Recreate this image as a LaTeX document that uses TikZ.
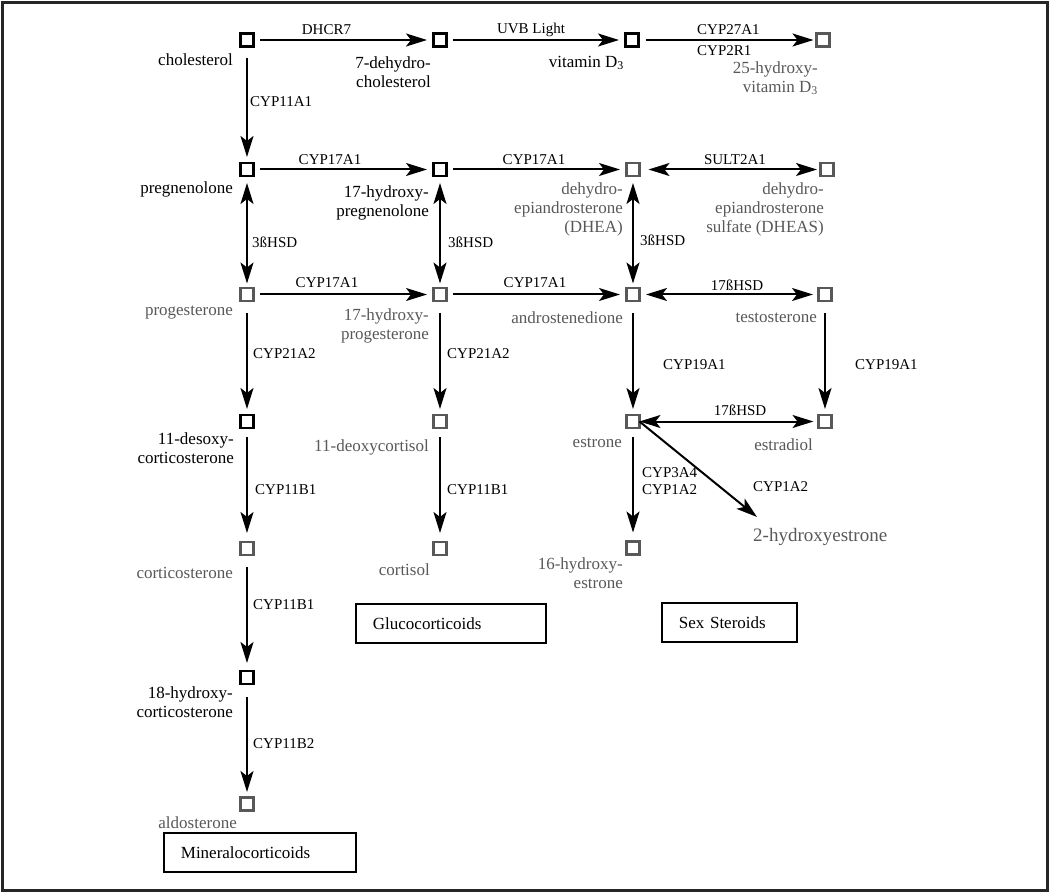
\documentclass[tikz,border=0pt]{standalone}
\usepackage{fontspec}
\setmainfont{Liberation Serif}
\usetikzlibrary{arrows.meta}
\definecolor{gr}{HTML}{585858}
\begin{document}
\begin{tikzpicture}[x=1pt,y=-1pt,
 sq/.style={draw, rectangle, minimum size=13pt, inner sep=0pt, outer sep=0pt, line width=2.2pt},
 bsq/.style={sq, draw=black},
 gsq/.style={sq, draw=gr},
 lab/.style={font=\fontsize{17}{19}\selectfont, inner sep=0pt, anchor=east, align=right},
 blab/.style={lab, text=black},
 glab/.style={lab, text=gr},
 enz/.style={font=\fontsize{15}{21}\selectfont, inner sep=0pt},
 enzw/.style={enz, anchor=west, align=left},
 tip/.tip={Stealth[length=21pt,width=13pt,inset=5pt]},
 arr/.style={line width=2pt, -tip},
 darr/.style={line width=2pt, tip-tip},
 grpbox/.style={draw, line width=1.8pt, anchor=north west, minimum height=39pt, inner xsep=17pt, inner ysep=0pt, align=left, font=\fontsize{17}{19}\selectfont}
]
\useasboundingbox (0,0) rectangle (1050,893);
\draw[line width=2.5pt, draw=black!85] (2.5,2.5) rectangle (1047.5,890.5);

% squares
\node[bsq] (chol) at (247,40) {};
\node[bsq] (dhc) at (440,40) {};
\node[bsq] (vd) at (632,40) {};
\node[gsq] (ohvd) at (823,40) {};
\node[bsq] (preg) at (247,169.5) {};
\node[bsq] (ohpreg) at (440,169.5) {};
\node[gsq] (dhea) at (633,169.5) {};
\node[gsq] (dheas) at (827,169.5) {};
\node[gsq] (prog) at (247,294.5) {};
\node[gsq] (ohprog) at (440,294.5) {};
\node[gsq] (andro) at (633,294.5) {};
\node[gsq] (testo) at (825,294.5) {};
\node[bsq] (doc) at (247,421.5) {};
\node[gsq] (dcort) at (440,421.5) {};
\node[gsq] (estrone) at (633,421.5) {};
\node[gsq] (estradiol) at (825,421.5) {};
\node[gsq] (cortico) at (247,548.5) {};
\node[gsq] (cortisol) at (440,548.5) {};
\node[gsq] (ohe) at (633,548) {};
\node[bsq] (ohcort) at (247,677.5) {};
\node[gsq] (aldo) at (247,804) {};
\coordinate (h2) at (757,517);

% metabolite labels
\node[blab] (lchol) at (233,60) {cholesterol};
\node[blab] (ldhc) at (431,72.5) {7-dehydro-\\cholesterol};
\node[blab] (lvd) at (624,63) {vitamin D\textsubscript{3}};
\node[glab] (lohvd) at (818,78) {25-hydroxy-\\vitamin D\textsubscript{3}};
\node[blab] (lpreg) at (233,189.5) {pregnenolone};
\node[blab] (lohpreg) at (429,202.5) {17-hydroxy-\\pregnenolone};
\node[glab] (ldhea) at (623,209.5) {dehydro-\\epiandrosterone\\(DHEA)};
\node[glab] (ldheas) at (824,209.5) {dehydro-\\epiandrosterone\\sulfate (DHEAS)};
\node[glab] (lprog) at (233,313) {progesterone};
\node[glab] (lohprog) at (429,326) {17-hydroxy-\\progesterone};
\node[glab] (landro) at (623,318) {androstenedione};
\node[glab] (ltesto) at (817,318) {testosterone};
\node[blab] (ldoc) at (234,448.5) {11-desoxy-\\corticosterone};
\node[glab] (ldcort) at (429,447) {11-deoxycortisol};
\node[glab] (lestrone) at (622,443) {estrone};
\node[glab] (lestradiol) at (813,445) {estradiol};
\node[glab] (lcortico) at (233,573) {corticosterone};
\node[glab] (lcortisol) at (430,570) {cortisol};
\node[glab] (lohe) at (623,573) {16-hydroxy-\\estrone};
\node[blab] (lohcort) at (233,702.5) {18-hydroxy-\\corticosterone};
\node[glab] (laldo) at (237,823) {aldosterone};
\node[font=\fontsize{19}{21}\selectfont, text=gr, inner sep=0pt, anchor=west] (lh2) at (753,537) {2-hydroxyestrone};

% arrows
\draw[arr, shorten <=6.5pt, shorten >=6.5pt] (chol) -- (dhc);
\draw[arr, shorten <=6.5pt, shorten >=6.5pt] (dhc) -- (vd);
\draw[arr, shorten <=7pt, shorten >=3pt] (vd) -- (ohvd);
\draw[arr, shorten <=6.5pt, shorten >=6.5pt] (preg) -- (ohpreg);
\draw[arr, shorten <=6.5pt, shorten >=6.5pt] (ohpreg) -- (dhea);
\draw[darr, shorten <=9pt, shorten >=3.5pt] (dhea) -- (dheas);
\draw[arr, shorten <=6.5pt, shorten >=6.5pt] (prog) -- (ohprog);
\draw[arr, shorten <=6.5pt, shorten >=6.5pt] (ohprog) -- (andro);
\draw[darr, shorten <=6.5pt, shorten >=5.5pt] (andro) -- (testo);
\draw[darr, shorten <=0pt, shorten >=5pt] (estrone) -- (estradiol);

\draw[arr, shorten <=11.5pt, shorten >=6pt] (chol) -- (preg);
\draw[darr, shorten <=7pt, shorten >=4.5pt] (preg) -- (prog);
\draw[arr, shorten <=12pt, shorten >=6pt] (prog) -- (doc);
\draw[arr, shorten <=9pt, shorten >=9pt] (doc) -- (cortico);
\draw[arr, shorten <=12pt, shorten >=8pt] (cortico) -- (ohcort);
\draw[arr, shorten <=13pt, shorten >=5.5pt] (ohcort) -- (aldo);
\draw[darr, shorten <=7pt, shorten >=4.5pt] (ohpreg) -- (ohprog);
\draw[arr, shorten <=12pt, shorten >=6pt] (ohprog) -- (dcort);
\draw[arr, shorten <=9pt, shorten >=9pt] (dcort) -- (cortisol);
\draw[darr, shorten <=7pt, shorten >=4.5pt] (dhea) -- (andro);
\draw[arr, shorten <=12pt, shorten >=6pt] (andro) -- (estrone);
\draw[arr, shorten <=12pt, shorten >=6pt] (testo) -- (estradiol);
\draw[arr, shorten <=9pt, shorten >=9pt] (estrone) -- (ohe);
\draw[arr] (estrone.east) -- (h2);

% enzyme labels
\node[enz] (eDHCR) at (326.5,30) {DHCR7};
\node[enz] (eUVB) at (531,30) {UVB Light};
\node[enzw] (eCYP27) at (697,40.5) {CYP27A1\\CYP2R1};
\node[enzw] (e11A1) at (250,102) {CYP11A1};
\node[enz] (e17a) at (330,160) {CYP17A1};
\node[enz] (e17b) at (534,160) {CYP17A1};
\node[enz] (eSULT) at (735,160) {SULT2A1};
\node[enzw] (e3a) at (252,242) {3ßHSD};
\node[enzw] (e3b) at (448,242) {3ßHSD};
\node[enzw] (e3c) at (640,240) {3ßHSD};
\node[enz] (e17c) at (327,283) {CYP17A1};
\node[enz] (e17d) at (535,283) {CYP17A1};
\node[enz] (e17hsd) at (737,285) {17ßHSD};
\node[enzw] (e21a) at (253,354) {CYP21A2};
\node[enzw] (e21b) at (447,354) {CYP21A2};
\node[enzw] (e19a) at (663,365) {CYP19A1};
\node[enzw] (e19b) at (855,365) {CYP19A1};
\node[enz] (e17hsdb) at (740,410) {17ßHSD};
\node[enzw, font=\fontsize{15}{17}\selectfont] (e3a4) at (642,481.5) {CYP3A4\\CYP1A2};
\node[enzw] (e1a2) at (753,487) {CYP1A2};
\node[enzw] (e11b1a) at (255,490) {CYP11B1};
\node[enzw] (e11b1b) at (447,490) {CYP11B1};
\node[enzw] (e11b1c) at (253,605) {CYP11B1};
\node[enzw] (e11b2) at (253,744) {CYP11B2};

% group boxes
\node[grpbox, text width=158pt] (bmin) at (163,832) {Mineralocorticoids};
\node[grpbox, text width=156pt] (bglu) at (355,603) {Glucocorticoids};
\node[grpbox, text width=101pt] (bsex) at (661,602) {Sex Steroids};
\end{tikzpicture}
\end{document}
